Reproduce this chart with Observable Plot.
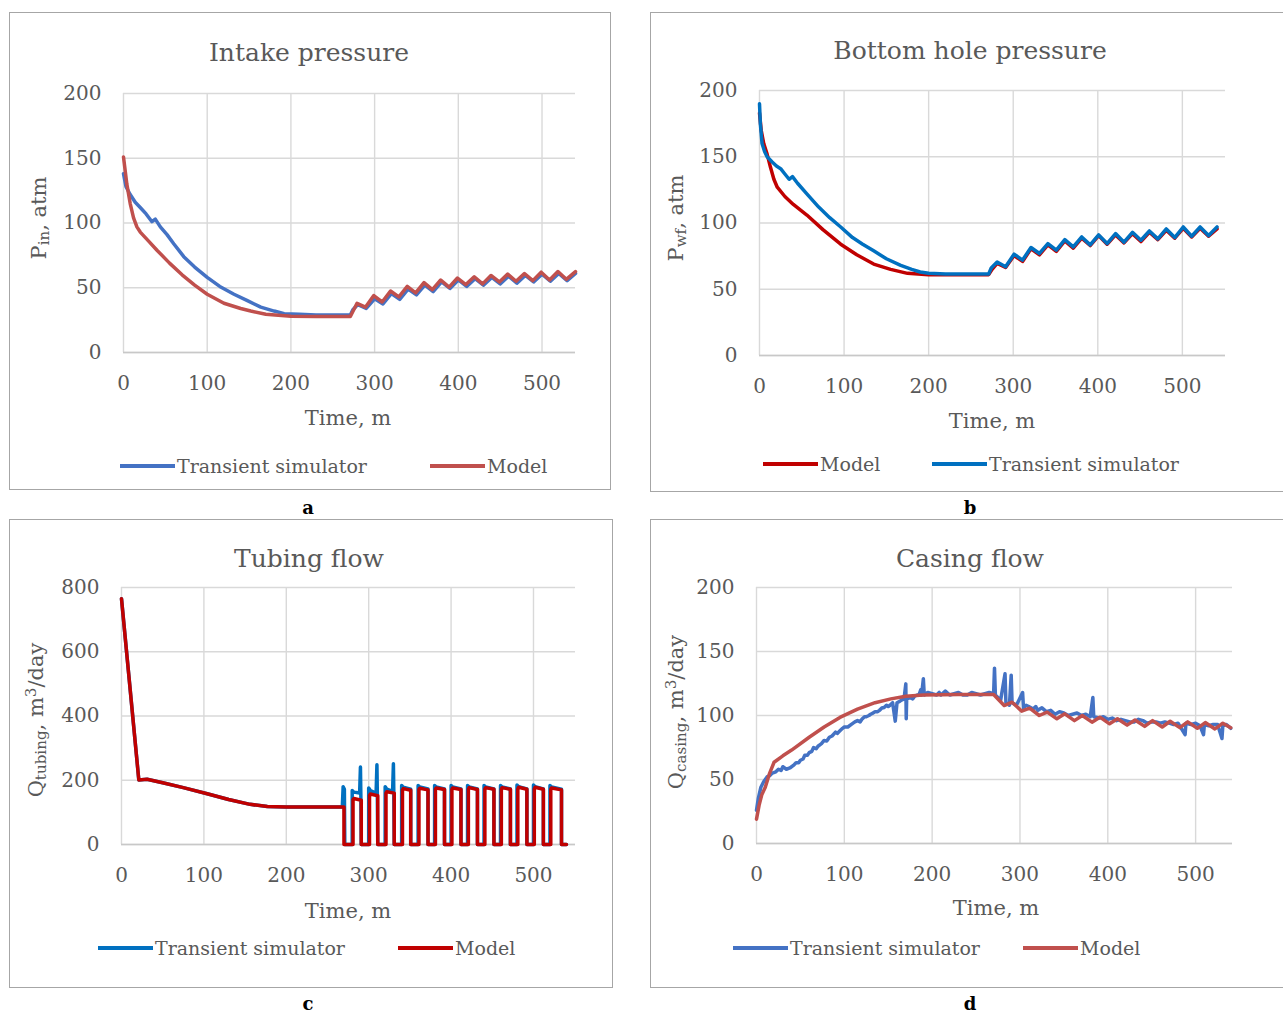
<!DOCTYPE html>
<html><head><meta charset="utf-8">
<script src="https://cdn.jsdelivr.net/npm/d3@7"></script>
<script src="https://cdn.jsdelivr.net/npm/@observablehq/plot@0.6"></script>
<style>
body{margin:0;background:#fff;}
#root{position:relative;width:1283px;height:1012px;font-family:"DejaVu Serif",serif;color:#595959;overflow:hidden;background:#fff}
.box{position:absolute;border:1.5px solid #a6a6a6;box-sizing:border-box}
.title{position:absolute;transform:translate(-50%,-50%);font-size:25px;white-space:nowrap}
.xlab{position:absolute;transform:translate(-50%,-50%);font-size:21px;white-space:nowrap}
.ylab{position:absolute;transform:translate(-50%,-50%) rotate(-90deg);font-size:21px;white-space:nowrap}
.ylab sub{font-size:0.72em;vertical-align:-0.25em}
.ylab sup{font-size:0.72em;vertical-align:0.45em}
.letter{position:absolute;transform:translate(-50%,-50%);font-size:18px;font-weight:bold;color:#000}
.leg{position:absolute;font-size:19px;white-space:nowrap;transform:translateY(-50%);display:flex;align-items:center}
.sw{display:inline-block;width:55px;height:4px;margin-right:2px}
.plot{position:absolute}
</style></head>
<body><div id="root"></div>
<script>
// ---------- tick values ----------
const X_TICKS = [0, 100, 200, 300, 400, 500];
const P_TICKS = [0, 50, 100, 150, 200];
const QT_TICKS = [0, 200, 400, 600, 800];
const QC_TICKS = [0, 50, 100, 150, 200];

// ---------- (a) Intake pressure [time, atm] ----------
const intakeSim = [[0,138],[3,128],[8,122],[14,116],[20,112],[27,107],[34,101],[38,103],[44,97],[52,91],[60,84],[72,74],[85,66],[100,58],[115,51],[132,45],[148,40],[164,35],[180,32],[192,30],[210,29.5],[230,29],[250,29],[271,29],
[274,33],[280,37],[290,34],[300,41.5],[310,37.5],[320,45.5],[330,41],[340,49],[350,44.5],[360,52],[370,47],[380,54.5],[390,49.5],[400,56],[410,51],[420,57],[430,52],[440,58],[450,53],[460,59],[470,53.5],[480,59.5],[490,54.5],[500,60.5],[510,55],[520,61],[530,55.5],[540,61]];
const intakeModel = [[0,151],[4,130],[8,115],[12,104],[16,97],[20,93],[30,86],[40,79],[55,69],[70,60],[85,52],[100,45],[120,38],[140,34],[152,32],[170,29.5],[200,28],[230,27.8],[271,27.8],
[279,38],[289,35],[299,44],[309,39],[319,47.5],[329,43],[339,51],[349,46],[359,54],[369,48.5],[379,56],[389,50.5],[399,57.5],[409,52.5],[419,58.5],[429,53],[439,59.5],[449,54.5],[459,60.5],[469,55],[479,61],[489,55.5],[499,62],[509,56],[519,62.5],[529,56.5],[540,62.5]];

// ---------- (b) Bottom hole pressure [time, atm] ----------
const bhpSim = [[0,190],[1,175],[3,160],[6,154],[9,150],[15,146],[20,143],[25,141],[30,137],[35,133],[39,135],[45,130],[56,122],[70,112],[83,104],[96,97],[110,89],[122,84],[135,79],[150,73],[167,68],[180,65],[190,63],[200,62],[220,61.5],[250,61.5],[271,61.5],
[274,66],[281,70.5],[291,67],[301,76.5],[311,72],[321,81.5],[331,77],[341,84.5],[351,79.5],[361,87.5],[371,82],[381,89.5],[391,83.5],[401,91],[411,84.5],[421,92],[431,85.5],[441,93],[451,87],[461,94],[471,88],[481,95.5],[491,89],[501,97],[511,90],[521,97],[531,90.5],[541,97]];
const bhpModel = [[0,183],[2,170],[5,160],[9,152],[13,142],[17,133],[21,127],[30,120],[40,114],[56,106],[75,95],[96,84],[115,76],[135,69],[155,65],[175,62],[200,61],[271,61],
[275,65],[281,69.5],[291,66.5],[301,75.5],[311,71],[321,80.5],[331,76],[341,83.5],[351,78.5],[361,86.5],[371,81],[381,88.5],[391,83],[401,90.5],[411,84],[421,91],[431,85],[441,92],[451,86],[461,93],[471,87.5],[481,94.5],[491,88.5],[501,96],[511,89.5],[521,96],[531,90],[541,95.5]];

// ---------- (c) Tubing flow [time, m3/day] ----------
const tubingSim = [[0,765],[21,201],[31,203],[50,192],[75,177],[104,158],[130,140],[156,125],[177,118],[200,117],[268,117],
[269,180],[270.5,172],[271,0],[280,0],[280,168],[282,163],[289,160],[290,241],[290.5,150],[291,0],
[300,0],[300,176],[302,168],[309,160],[310,248],[310.5,155],[311,0],
[320,0],[320,180],[322,172],[329,165],[330,251],[330.5,162],[331,0],
[340,0],[340,184],[342,178],[351,172],[351,0],
[360,0],[360,184],[362,179],[372,173],[372,0],
[380,0],[380,184],[382,179],[392,173],[392,0],
[400,0],[400,184],[402,179],[412,173],[412,0],
[420,0],[420,184],[422,179],[432,173],[432,0],
[440,0],[440,184],[442,179],[452,173],[452,0],
[460,0],[460,184],[462,179],[472,173],[472,0],
[480,0],[480,185],[482,180],[492,173],[492,0],
[500,0],[500,185],[502,180],[512,173],[512,0],
[520,0],[520,184],[522,179],[534,172],[534,0],[540,0]];
const tubingModel = [[0,765],[21,201],[31,203],[50,192],[75,177],[104,158],[130,140],[156,125],[177,118],[200,117],[268,117],[270,117],[270,0],
[281,0],[281,140],[282,143],[291,138],[291,0],
[301,0],[301,153],[302,157],[311,152],[311,0],
[321,0],[321,160],[322,164],[331,160],[331,0],
[341,0],[341,170],[342,174],[351,169],[351,0],
[361,0],[361,171],[362,175],[372,170],[372,0],
[381,0],[381,172],[382,176],[392,171],[392,0],
[401,0],[401,172],[402,176],[412,171],[412,0],
[421,0],[421,172],[422,177],[432,171],[432,0],
[441,0],[441,173],[442,177],[452,172],[452,0],
[461,0],[461,173],[462,177],[472,172],[472,0],
[481,0],[481,173],[482,178],[492,172],[492,0],
[501,0],[501,173],[502,178],[512,172],[512,0],
[521,0],[521,172],[522,176],[534,170],[534,0],[540,0]];

// ---------- (d) Casing flow [time, m3/day] ----------
const casingSim = [[0,26],[2,35],[5,44],[8,48],[12,52],[15,53],[18,55],[22,56],[25,58],[28,57],[30,60],[34,58],[38,59],[42,61],[45,63],[48,63],[50,65],[53,66],[55,69],[58,69],[60,71],[63,72],[65,75],[68,74],[70,76],[74,78],[77,80.5],[80,80],[83,83],[86,84],[90,87],[92,86],[95,88],[98,90],[100,91],[104,91],[108,93],[112,95],[115,96],[118,95],[120,97],[123,99],[125,99],[128,100],[130,101],[133,102],[135,103],[138,103],[140,104],[143,106],[145,106],[148,108],[150,107],[152,108],[155,110],[158,95.6],[160,110],[163,111],[165,112],[168,113],[170,124.7],[170.5,97.4],[171,113],[175,114],[178,113],[180,115],[183,116],[185,116],[187,120],[188,116],[190,128.7],[191,116],[195,118],[200,117],[205,116],[208,118],[210,116],[215,119],[220,116],[225,117],[230,118],[235,116],[240,116],[245,118],[250,117],[255,116],[260,117],[265,118],[270,117],
[271,137],[272,116],[278,112],[283,132.6],[284,110],[288,108],[290,131.5],[291,110],[296,108],[303,118],[304,106],[307,108],[310,107],[315,105],[318,107],[320,104],[325,106],[330,103],[335,104],[340,101],[345,103],[350,102],[355,100],[360,101],[365,102],[370,100],[375,101],[380,99],[383,114],[384,99],[390,98],[395,99],[400,97],[405,98],[410,96],[415,97],[420,96],[425,95],[430,95],[435,97],[440,96],[445,94],[450,95],[455,95],[460,94],[465,95],[470,94],[475,93],[480,94],[488,85],[489,94],[495,93],[500,94],[505,92],[509,85],[510,93],[515,92],[520,93],[525,93],[530,82],[531,92],[535,93],[540,90]];
const casingModel = [[0,19],[3,30],[6,38],[10,44],[15,55],[20,63.5],[30,68.5],[40,73],[60,83],[77,91],[95,98.5],[115,105],[135,110],[153,113],[170,115],[190,116],[230,116.4],[270,116.4],
[282,107.8],[291,110.4],[302,103.4],[311,105.7],[322,100],[331,102.6],[342,97.4],[351,101.3],[362,96],[371,100],[382,94.8],[391,98.7],[402,93.5],[411,97.5],[422,92.5],[431,96.5],[442,91.5],[451,96],[462,91],[471,95.5],[482,90.5],[491,95],[502,90],[511,94.5],[522,89.5],[531,94],[540,90.5]];

const root = document.getElementById("root");
function el(cls, x, y, html){ const d=document.createElement("div"); d.className=cls; d.style.left=x+"px"; d.style.top=y+"px"; d.innerHTML=html; root.appendChild(d); return d; }
function box(x,y,w,h){ const d=document.createElement("div"); d.className="box"; Object.assign(d.style,{left:x+"px",top:y+"px",width:w+"px",height:h+"px"}); root.appendChild(d); }
function legend(x,y,color,text){ el("leg", x, y, `<span class="sw" style="background:${color}"></span><span>${text}</span>`); }

function panel(p){
  const ml=80, mr=20, mt=20, mb=50;
  const fw=p.frame[1]-p.frame[0], fh=p.frame[3]-p.frame[2];
  const chart = Plot.plot({
    width: fw+ml+mr, height: fh+mt+mb,
    marginLeft: ml, marginRight: mr, marginTop: mt, marginBottom: mb,
    x: {domain: p.xd}, y: {domain: p.yd},
    style: {fontFamily: '"DejaVu Serif", serif', fontSize: "20px", color: "#595959", background: "transparent", overflow: "visible", maxWidth: "none"},
    marks: [
      Plot.gridX(X_TICKS, {stroke: "#d9d9d9", strokeOpacity: 1, strokeWidth: 1.4}),
      Plot.gridY(p.yt, {stroke: "#d9d9d9", strokeOpacity: 1, strokeWidth: 1.4}),
      Plot.ruleY([p.yd[0]], {stroke: "#c8c8c8", strokeWidth: 1.6}),
      Plot.axisX(X_TICKS, {tickSize: 0, tickPadding: 23, label: null}),
      Plot.axisY(p.yt, {tickSize: 0, tickPadding: 22, label: null}),
      ...p.series.map(s => Plot.line(s.data, {x: d => d[0], y: d => d[1], stroke: s.color, strokeWidth: 3.5, strokeLinejoin: "round", strokeLinecap: "round"}))
    ]
  });
  chart.classList.add("plot");
  chart.style.left = (p.frame[0]-ml)+"px";
  chart.style.top = (p.frame[2]-mt)+"px";
  root.appendChild(chart);
}

const BLUE_A="#4472C4", RED_A="#C0504D", BLUE_B="#0070C0", RED_B="#C00000";

// boxes
box(9,12,602,478); box(650,12,640,480); box(9,519,604,469); box(650,519,640,469);

// (a)
panel({frame:[123,575,93,352], xd:[0,540], yd:[0,200], yt:P_TICKS,
  series:[{data:intakeSim,color:BLUE_A},{data:intakeModel,color:RED_A}]});
el("title",309,52,"Intake pressure");
el("xlab",348,418,"Time, m");
el("ylab",40,218,"P<sub>in</sub>, atm");
legend(120,466,BLUE_A,"Transient simulator");
legend(430,466,RED_A,"Model");
el("letter",308,507,"a");

// (b)
panel({frame:[759,1225,90,355], xd:[0,551], yd:[0,200], yt:P_TICKS,
  series:[{data:bhpModel,color:RED_B},{data:bhpSim,color:BLUE_B}]});
el("title",970,50,"Bottom hole pressure");
el("xlab",992,421,"Time, m");
el("ylab",677,218,"P<sub>wf</sub>, atm");
legend(763,464,RED_B,"Model");
legend(932,464,BLUE_B,"Transient simulator");
el("letter",970,507,"b");

// (c)
panel({frame:[121,575,587,844], xd:[0,551], yd:[0,800], yt:QT_TICKS,
  series:[{data:tubingSim,color:BLUE_B},{data:tubingModel,color:RED_B}]});
el("title",309,558,"Tubing flow");
el("xlab",348,911,"Time, m");
el("ylab",36,720,"Q<sub>tubing</sub>, m<sup>3</sup>/day");
legend(98,948,BLUE_B,"Transient simulator");
legend(398,948,RED_B,"Model");
el("letter",308,1003,"c");

// (d)
panel({frame:[756,1232,587,843], xd:[0,542], yd:[0,200], yt:QC_TICKS,
  series:[{data:casingSim,color:BLUE_A},{data:casingModel,color:RED_A}]});
el("title",970,558,"Casing flow");
el("xlab",996,908,"Time, m");
el("ylab",676,712,"Q<sub>casing</sub>, m<sup>3</sup>/day");
legend(733,948,BLUE_A,"Transient simulator");
legend(1023,948,RED_A,"Model");
el("letter",970,1003,"d");
</script></body></html>
